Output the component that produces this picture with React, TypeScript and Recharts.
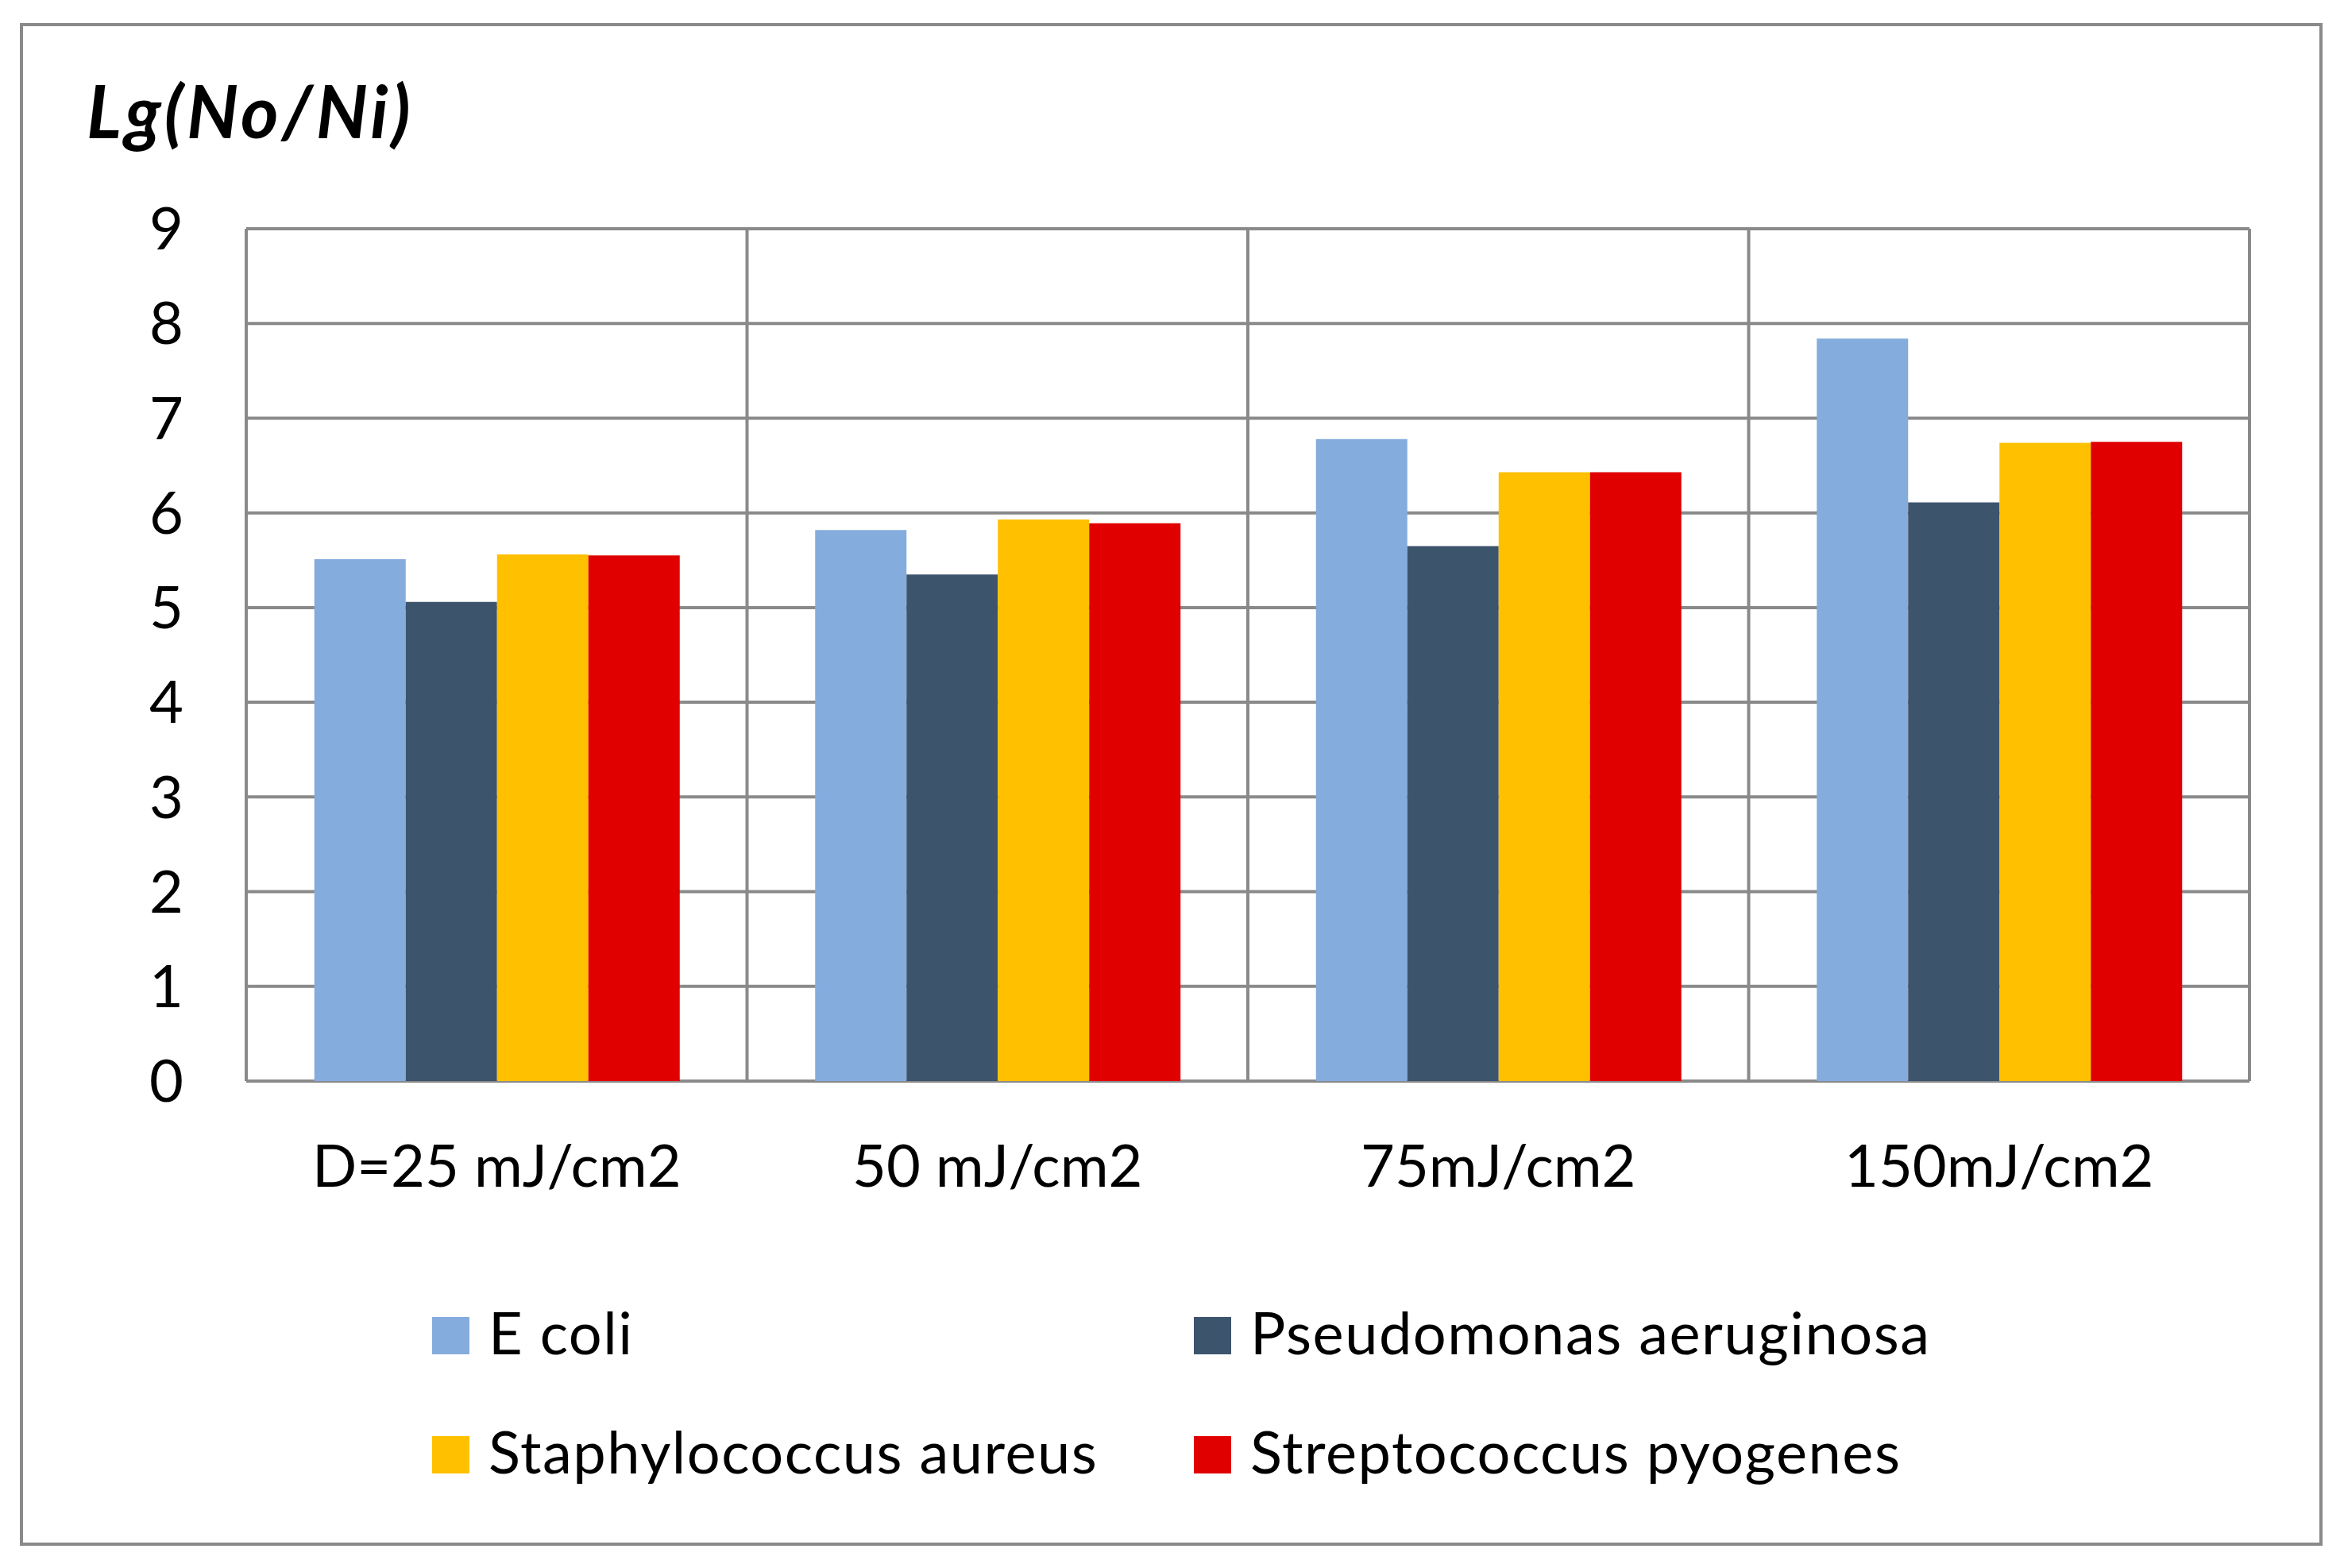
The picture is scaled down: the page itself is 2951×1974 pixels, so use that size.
import React from 'react';
import { BarChart, Bar, XAxis, YAxis, CartesianGrid, Legend } from 'recharts';

const doses = ['D=25 mJ/cm2', '50 mJ/cm2', '75mJ/cm2', '150mJ/cm2'];
const eColi = [5.51, 5.82, 6.78, 7.84];
const pseudomonas = [5.06, 5.35, 5.65, 6.11];
const staphylococcus = [5.56, 5.93, 6.43, 6.74];
const streptococcus = [5.55, 5.89, 6.43, 6.75];
const yTicks = [0, 1, 2, 3, 4, 5, 6, 7, 8, 9];

const series = [
  { key: 'ecoli', name: 'E coli', color: '#84ACDD' },
  { key: 'pseudo', name: 'Pseudomonas aeruginosa', color: '#3D546D' },
  { key: 'staph', name: 'Staphylococcus aureus', color: '#FFC000' },
  { key: 'strep', name: 'Streptococcus pyogenes', color: '#E00000' },
];

const data = doses.map((dose, i) => ({
  dose,
  ecoli: eColi[i],
  pseudo: pseudomonas[i],
  staph: staphylococcus[i],
  strep: streptococcus[i],
}));

const FONT = 'Lato, "Noto Sans", sans-serif';
const GRID = '#8A8A8A';

// vertical grid lines sit on the category boundaries, not the centres
const boundaryLines = ({ offset }: any) =>
  Array.from({ length: doses.length + 1 }, (_, i) => offset.left + (offset.width * i) / doses.length);

// legend order in the picture: row-major, two columns
function renderLegend(props: any) {
  const items = props.payload ?? [];
  return (
    <div
      style={{
        display: 'grid',
        gridTemplateColumns: '959px 940px',
        fontFamily: FONT,
        fontSize: 74,
        letterSpacing: '1.5px',
        lineHeight: '150px',
        color: '#000',
      }}
    >
      {items.map((entry: any) => (
        <div key={entry.value} style={{ whiteSpace: 'nowrap' }}>
          <span
            style={{
              display: 'inline-block',
              width: 47,
              height: 47,
              background: entry.color,
              marginRight: 24,
              verticalAlign: 'baseline',
            }}
          />
          {entry.value}
        </div>
      ))}
    </div>
  );
}

export default function App() {
  return (
    <div style={{ position: 'relative', width: 2951, height: 1974, background: '#fff' }}>
      <style>{'body{margin:0}'}</style>
      <div
        style={{
          position: 'absolute',
          left: 25,
          top: 29,
          width: 2899,
          height: 1917,
          border: `4px solid ${GRID}`,
          boxSizing: 'border-box',
        }}
      />
      <div
        style={{
          position: 'absolute',
          left: 109,
          top: 93,
          fontFamily: FONT,
          fontSize: 91,
          fontWeight: 'bold',
          fontStyle: 'italic',
          letterSpacing: '4px',
          lineHeight: 1,
          color: '#000',
        }}
      >
        Lg(No/Ni)
      </div>
      <div style={{ position: 'absolute', left: 0, top: 0 }}>
        <BarChart
          width={2951}
          height={1974}
          data={data}
          margin={{ top: 288, right: 119, bottom: 513, left: 210 }}
          barCategoryGap="13.6%"
          barGap={0}
        >
          <CartesianGrid
            stroke={GRID}
            strokeWidth={4}
            verticalCoordinatesGenerator={boundaryLines}
          />
          <XAxis
            dataKey="dose"
            height={100}
            axisLine={false}
            tickLine={false}
            tickSize={0}
            tickMargin={80}
            interval={0}
            tick={{ fontSize: 74, fill: '#000', fontFamily: FONT }}
          />
          <YAxis
            width={100}
            domain={[0, 9]}
            ticks={yTicks}
            interval={0}
            axisLine={false}
            tickLine={false}
            tickSize={0}
            tickMargin={79}
            tick={{ fontSize: 74, fill: '#000', fontFamily: FONT }}
          />
          <Legend
            layout="horizontal"
            verticalAlign="middle"
            align="center"
            content={renderLegend}
            wrapperStyle={{ position: 'absolute', left: 544, top: 1602, width: 1900 }}
          />
          {series.map((s) => (
            <Bar
              key={s.key}
              dataKey={s.key}
              name={s.name}
              fill={s.color}
              isAnimationActive={false}
            />
          ))}
        </BarChart>
      </div>
    </div>
  );
}
